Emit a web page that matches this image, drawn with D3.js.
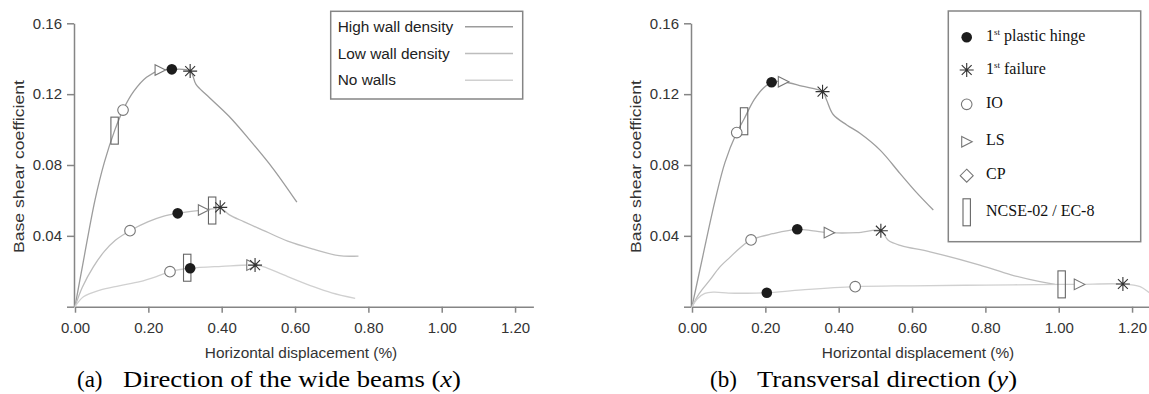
<!DOCTYPE html>
<html>
<head>
<meta charset="utf-8">
<script src="https://cdn.jsdelivr.net/npm/d3@7"></script>
<style>
  body { margin: 0; background: #fff; }
  svg { display: block; }
</style>
</head>
<body>
<div id="chart"></div>
<script>
const xTicks = [0, 0.2, 0.4, 0.6, 0.8, 1.0, 1.2];
const yTicks = [0, 0.04, 0.08, 0.12, 0.16];
const seriesNames = ['High wall density', 'Low wall density', 'No walls'];
const seriesColors = ['#9c9c9c', '#bdbdbd', '#d0d0d0'];

// (a) direction of the wide beams, [displacement %, base shear coeff]
const aHigh = [[0, 0], [0.02, 0.0225], [0.0545, 0.0602], [0.08, 0.0815], [0.108, 0.0994],
  [0.131, 0.111], [0.16, 0.1215], [0.195, 0.1295], [0.232, 0.1335], [0.264, 0.134], [0.314, 0.133],
  [0.33, 0.1255], [0.359, 0.1195], [0.42, 0.1075], [0.477, 0.094], [0.54, 0.078], [0.605, 0.059]];
const aLow = [[0, 0], [0.02, 0.011], [0.05, 0.0225], [0.08, 0.0312], [0.11, 0.0375], [0.15, 0.0429],
  [0.2, 0.048], [0.24, 0.051], [0.28, 0.0527], [0.35, 0.0546], [0.374, 0.0552], [0.396, 0.0558],
  [0.42, 0.052], [0.46, 0.048], [0.52, 0.0425], [0.58, 0.037], [0.65, 0.0325], [0.72, 0.0288], [0.773, 0.0286]];
const aNone = [[0, 0], [0.023, 0.0056], [0.068, 0.0094], [0.12, 0.0118], [0.177, 0.0141], [0.22, 0.0168],
  [0.259, 0.0198], [0.314, 0.0217], [0.40, 0.0228], [0.486, 0.0235], [0.515, 0.0225], [0.559, 0.0188],
  [0.65, 0.0113], [0.70, 0.0078], [0.764, 0.0047]];
const aMarkers = [
  ['code', 0.108, 0.0994], ['io', 0.131, 0.111], ['ls', 0.232, 0.1336], ['hinge', 0.264, 0.134], ['failure', 0.314, 0.133],
  ['io', 0.150, 0.0429], ['hinge', 0.280, 0.0527], ['ls', 0.350, 0.0546], ['code', 0.374, 0.0543], ['failure', 0.396, 0.0561],
  ['io', 0.259, 0.0198], ['code', 0.306, 0.022], ['hinge', 0.314, 0.0217], ['ls', 0.482, 0.0235], ['failure', 0.491, 0.0235]
];

// (b) transversal direction
const bHigh = [[0, 0], [0.03, 0.029], [0.063, 0.060], [0.09, 0.0815], [0.122, 0.0983],
  [0.142, 0.106], [0.17, 0.117], [0.195, 0.1235], [0.217, 0.1267], [0.249, 0.127], [0.30, 0.1245],
  [0.356, 0.1214], [0.367, 0.1167], [0.385, 0.1085], [0.422, 0.1026], [0.458, 0.0979], [0.513, 0.0884],
  [0.567, 0.0753], [0.61, 0.065], [0.658, 0.0546]];
const bLow = [[0, 0], [0.02, 0.0075], [0.049, 0.0151], [0.075, 0.0222], [0.104, 0.028], [0.13, 0.033],
  [0.161, 0.0377], [0.22, 0.0412], [0.287, 0.0437], [0.331, 0.0428], [0.374, 0.0418], [0.45, 0.0418],
  [0.515, 0.0429], [0.535, 0.0375], [0.57, 0.0345], [0.649, 0.031], [0.785, 0.0235], [0.87, 0.018],
  [0.949, 0.0141], [0.99, 0.0126]];
const bNone = [[0, 0], [0.015, 0.0045], [0.035, 0.0075], [0.06, 0.0082], [0.1, 0.0077], [0.15, 0.0076],
  [0.204, 0.0079], [0.30, 0.0095], [0.445, 0.0113], [0.6, 0.0118], [0.8, 0.0122], [1.008, 0.0126],
  [1.056, 0.0126], [1.175, 0.0128], [1.222, 0.0113], [1.25, 0.0075], [1.27, 0.005]];
const bMarkers = [
  ['io', 0.122, 0.0983], ['code', 0.142, 0.1047], ['hinge', 0.217, 0.1267], ['ls', 0.249, 0.127], ['failure', 0.356, 0.1214],
  ['io', 0.161, 0.0377], ['hinge', 0.287, 0.0437], ['ls', 0.374, 0.0418], ['failure', 0.515, 0.0429],
  ['hinge', 0.204, 0.0079], ['io', 0.445, 0.0113], ['code', 1.008, 0.0126], ['ls', 1.056, 0.0126], ['failure', 1.175, 0.0128]
];

const markerTypes = ['hinge', 'failure', 'io', 'ls', 'cp', 'code'];
const markerLabels = ['plastic hinge', 'failure', 'IO', 'LS', 'CP', 'NCSE-02 / EC-8'];

const W = 1149, H = 394;
const sans = '"Liberation Sans", Arial, sans-serif';
const serif = '"Liberation Serif", "Times New Roman", serif';
const axisColor = '#858585';

const svg = d3.select('#chart').append('svg').attr('width', W).attr('height', H);

const y = d3.scaleLinear().domain([0, 0.16]).range([306.7, 23.3]);

function drawMarker(g, type, cx, cy) {
  if (type === 'hinge') {
    g.append('circle').attr('cx', cx).attr('cy', cy).attr('r', 5.3).attr('fill', '#1c1c1c');
  } else if (type === 'io') {
    g.append('circle').attr('cx', cx).attr('cy', cy).attr('r', 5.3)
      .attr('fill', '#fff').attr('stroke', '#777').attr('stroke-width', 1.1);
  } else if (type === 'ls') {
    g.append('path').attr('d', `M${cx - 5},${cy - 5.3}L${cx + 5.5},${cy}L${cx - 5},${cy + 5.3}Z`)
      .attr('fill', '#fff').attr('stroke', '#777').attr('stroke-width', 1.1);
  } else if (type === 'cp') {
    g.append('path').attr('d', `M${cx},${cy - 6.5}L${cx + 6.5},${cy}L${cx},${cy + 6.5}L${cx - 6.5},${cy}Z`)
      .attr('fill', '#fff').attr('stroke', '#777').attr('stroke-width', 1.1);
  } else if (type === 'code') {
    g.append('rect').attr('x', cx - 3.7).attr('y', cy - 13.5).attr('width', 7.4).attr('height', 27)
      .attr('fill', 'none').attr('stroke', '#666').attr('stroke-width', 1.1);
  } else if (type === 'failure') {
    const r = 7;
    let d = '';
    for (let a = 0; a < 4; a++) {
      const t = a * Math.PI / 4;
      d += `M${cx - r * Math.cos(t)},${cy - r * Math.sin(t)}L${cx + r * Math.cos(t)},${cy + r * Math.sin(t)}`;
    }
    g.append('path').attr('d', d).attr('stroke', '#333').attr('stroke-width', 1.1);
  }
}

const drawOrder = ['code', 'io', 'ls', 'failure', 'hinge'];

function panel(x0, series, markers) {
  const x = d3.scaleLinear().domain([0, 1.25]).range([x0, x0 + 458.4]);
  const g = svg.append('g');

  const yAx = g.append('g').attr('transform', `translate(${x0 - 1},0)`)
    .call(d3.axisLeft(y).tickValues(yTicks).tickSize(7).tickSizeOuter(0).tickPadding(5)
      .tickFormat(d => d === 0 ? '' : d3.format('.2f')(d)));
  const xAx = g.append('g').attr('transform', `translate(0,${y(0)})`)
    .call(d3.axisBottom(x).tickValues(xTicks).tickSize(6).tickSizeOuter(0).tickPadding(10)
      .tickFormat(d3.format('.2f')));
  [yAx, xAx].forEach(a => {
    a.selectAll('path, line').attr('stroke', axisColor).attr('stroke-width', 1.5);
    a.selectAll('text').attr('fill', '#333').style('font', `15px ${sans}`);
  });

  g.append('text').attr('transform', `translate(${x0 - 51},166.5) rotate(-90)`)
    .attr('text-anchor', 'middle').attr('fill', '#333')
    .attr('textLength', 173).attr('lengthAdjust', 'spacingAndGlyphs')
    .style('font', `14.5px ${sans}`).text('Base shear coefficient');
  g.append('text').attr('x', x0 + 226).attr('y', 358.3)
    .attr('text-anchor', 'middle').attr('fill', '#333')
    .style('font', `15.4px ${sans}`).text('Horizontal displacement (%)');

  const line = d3.line().x(d => x(d[0])).y(d => y(d[1])).curve(d3.curveCatmullRom.alpha(0.5));
  series.forEach((s, i) => {
    g.append('path').datum(s).attr('d', line).attr('fill', 'none')
      .attr('stroke', seriesColors[i]).attr('stroke-width', 1.3);
  });

  const mg = g.append('g');
  drawOrder.forEach(t => {
    markers.filter(m => m[0] === t).forEach(m => drawMarker(mg, t, x(m[1]), y(m[2])));
  });
  return x;
}

panel(75, [aHigh, aLow, aNone], aMarkers);
panel(692, [bHigh, bLow, bNone], bMarkers);

// legend (a)
const la = svg.append('g');
la.append('rect').attr('x', 330.7).attr('y', 11.3).attr('width', 192).attr('height', 87.7)
  .attr('fill', '#fff').attr('stroke', axisColor).attr('stroke-width', 1.5);
seriesNames.forEach((n, i) => {
  const yy = 26.7 + i * 26.8;
  la.append('text').attr('x', 337.7).attr('y', yy + 5).attr('fill', '#222')
    .style('font', `15.4px ${sans}`).text(n);
  la.append('line').attr('x1', 465).attr('x2', 513).attr('y1', yy).attr('y2', yy)
    .attr('stroke', seriesColors[i]).attr('stroke-width', 1.5);
});

// legend (b)
const lb = svg.append('g');
lb.append('rect').attr('x', 948.3).attr('y', 11).attr('width', 192.4).attr('height', 230.7)
  .attr('fill', '#fff').attr('stroke', axisColor).attr('stroke-width', 1.5);
const lbY = [37.3, 70, 104.3, 141.7, 175.7, 212.3];
markerTypes.forEach((t, i) => {
  drawMarker(lb, t, 966.7, lbY[i]);
  const tx = lb.append('text').attr('x', 986).attr('y', lbY[i] + 3.6).attr('fill', '#111')
    .style('font', `16px ${serif}`);
  if (i < 2) {
    tx.append('tspan').text('1');
    tx.append('tspan').attr('dy', -6).style('font-size', '9px').text('st');
    tx.append('tspan').attr('dy', 6).text(' ' + markerLabels[i]);
  } else {
    tx.text(markerLabels[i]);
  }
});

// captions
function caption(xa, xb, lenB, main, sym) {
  const c = svg.append('g').style('font', `23px ${serif}`).attr('fill', '#000');
  c.append('text').attr('x', xa).attr('y', 387.3).text(main[0]);
  const t = c.append('text').attr('x', xb).attr('y', 387.3)
    .attr('textLength', lenB).attr('lengthAdjust', 'spacingAndGlyphs');
  t.append('tspan').text(main[1] + ' (');
  t.append('tspan').style('font-style', 'italic').text(sym);
  t.append('tspan').text(')');
}
caption(77, 123, 338, ['(a)', 'Direction of the wide beams'], 'x');
caption(710, 757, 260, ['(b)', 'Transversal direction'], 'y');
</script>
</body>
</html>
